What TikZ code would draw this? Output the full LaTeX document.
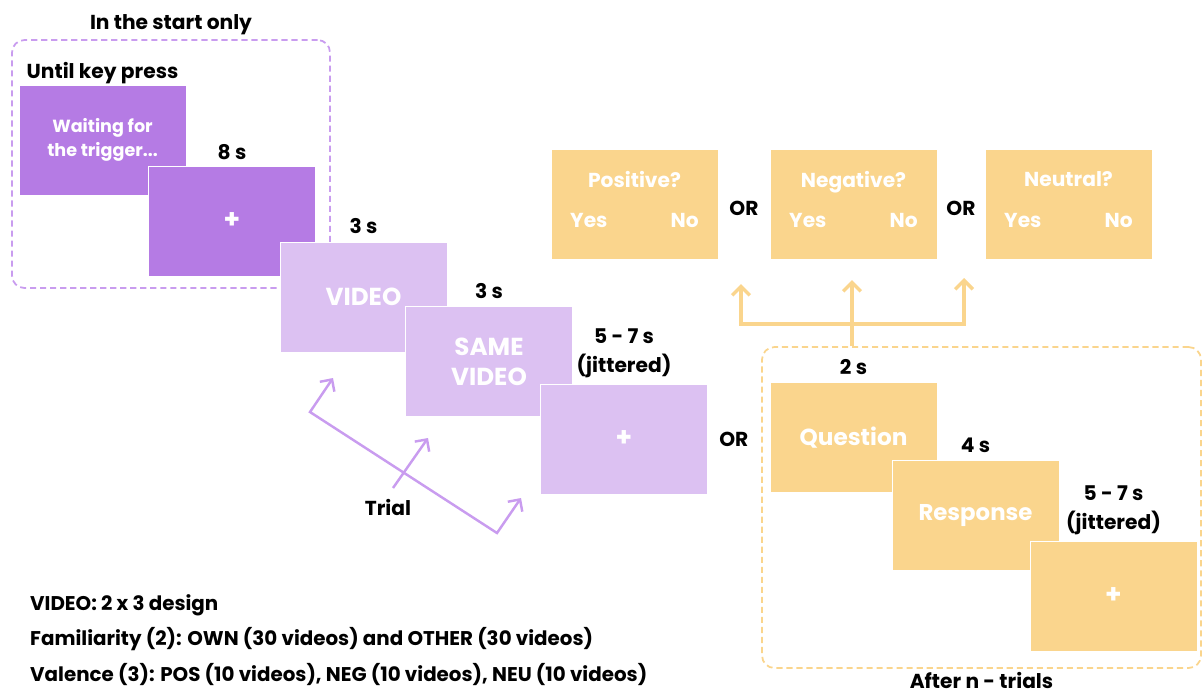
\documentclass[tikz,border=0pt]{standalone}
\usepackage{fontspec}
\setmainfont{Poppins}
\usepackage{tikz}
\usetikzlibrary{positioning,calc,arrows.meta}
\definecolor{darkviolet}{HTML}{B57BE4}
\definecolor{lightviolet}{HTML}{DCC1F2}
\definecolor{violetline}{HTML}{C99CEF}
\definecolor{sand}{HTML}{FAD58D}
\tikzset{
    >={Straight Barb[length=5pt,width=10pt]},
    screen/.style={
      rectangle,
      draw=white, thin,
      minimum width=3.34cm,
      minimum height=2.2cm,
      text=white,
      font=\bfseries\fontsize{14}{17}\selectfont,
      align=center},
    startscreen/.style={screen, fill=darkviolet},
    trialscreen/.style={screen, fill=lightviolet},
    askscreen/.style={screen, fill=sand},
    duration/.style={font=\bfseries\fontsize{11.5}{14}\selectfont, align=center},
    framebox/.style={
      rectangle,
      rounded corners=7pt,
      dash pattern=on 3.5pt off 2.2pt,
      line width=1pt},
    trialline/.style={draw=violetline, line width=1.4pt},
    askline/.style={draw=sand, line width=2pt},
    note/.style={font=\bfseries\fontsize{11.3}{13}\selectfont, anchor=west},
}

\begin{document}
\begin{tikzpicture}[x=0.02cm, y=-0.02cm]
    \useasboundingbox (0,0) rectangle (1203,698);

    \node[framebox, draw=violetline, minimum width=6.36cm, minimum height=4.96cm] (startframe) at (171,164) {};
    \node[duration, above=-1pt of startframe] (startlabel) {In the start only};
    \node[framebox, draw=sand, minimum width=8.78cm, minimum height=6.42cm] (afterframe) at (981.5,507.5) {};
    \node[duration, below=-1.5pt of afterframe] (afterlabel) {After n - trials};

    \node[startscreen, font=\bfseries\fontsize{10}{14}\selectfont] (wait) at (102.5,140) {Waiting for\\the trigger...};
    \node[duration, above=-3pt of wait] (waitlabel) {Until key press};
    \node[startscreen, font=\bfseries\fontsize{15}{15}\selectfont] (fixstart) at (232,221) {+};
    \node[duration, above=0pt of fixstart] (fixstartlabel) {8 s};

    \node[trialscreen] (video) at (363.5,297) {VIDEO};
    \node[duration, above=1pt of video] (videolabel) {3 s};
    \node[trialscreen] (same) at (489,361.5) {SAME\\VIDEO};
    \node[duration, above=1pt of same] (samelabel) {3 s};
    \node[trialscreen, font=\bfseries\fontsize{15}{15}\selectfont] (fixtrial) at (624,439) {+};
    \node[duration, above=0pt of fixtrial] (fixtriallabel) {5 - 7 s\\[2pt](jittered)};
    \node[duration, right=3pt of fixtrial] (or0) {OR};

    \coordinate (trialA) at (333,378);
    \coordinate (trialB) at (310,412);
    \coordinate (trialC) at (497,533);
    \coordinate (trialD) at (521,498);
    \coordinate (trialE) at (393,488);
    \coordinate (trialF) at (428,438);
    \draw[trialline, <->] (trialA) -- (trialB) -- (trialC) -- (trialD);
    \draw[trialline, ->] (trialE) -- (trialF);
    \node[duration] (trial) at (388,507) {Trial};

    \node[askscreen, font=\bfseries\fontsize{11.5}{13}\selectfont] (pos) at (634.5,204.5) {Positive?\\[10pt]Yes\hspace{36pt}No\\[-7.5pt]\mbox{}};
    \node[askscreen, font=\bfseries\fontsize{11.5}{13}\selectfont] (neg) at (853.5,204.5) {Negative?\\[10pt]Yes\hspace{36pt}No\\[-7.5pt]\mbox{}};
    \node[askscreen, font=\bfseries\fontsize{11.5}{13}\selectfont] (neu) at (1068.5,204.5) {Neutral?\\[10pt]Yes\hspace{36pt}No\\[-7.5pt]\mbox{}};
    \node[duration] (or1) at ($(pos.east)!0.5!(neg.west)+(0,4)$) {OR};
    \node[duration] (or2) at ($(neg.east)!0.5!(neu.west)+(0,4)$) {OR};

    \coordinate (forkL) at (741,324);
    \coordinate (forkR) at (964,324);
    \coordinate (tipL) at (741,284);
    \coordinate (tipM) at (852,280);
    \coordinate (tipR) at (964,278);
    \draw[askline, <->] (tipL) -- (forkL) -- (forkR) -- (tipR);
    \draw[askline, ->] (afterframe.north -| tipM) -- (tipM);

    \node[askscreen, font=\bfseries\fontsize{13.2}{15}\selectfont] (question) at (853.5,437.5) {Question};
    \node[duration, above=1pt of question] (questionlabel) {2 s};
    \node[askscreen, font=\bfseries\fontsize{13}{15}\selectfont] (response) at (975.5,515.5) {Response};
    \node[duration, above=1pt of response] (responselabel) {4 s};
    \node[askscreen, font=\bfseries\fontsize{15}{15}\selectfont] (fixask) at (1113.5,596) {+};
    \node[duration, above=0pt of fixask] (fixasklabel) {5 - 7 s\\[2pt](jittered)};

    \node[note] (note1) at (24,605) {VIDEO: 2 x 3 design};
    \node[note] (note2) at (24,639) {Familiarity (2): OWN (30 videos) and OTHER (30 videos)};
    \node[note] (note3) at (24,674) {Valence (3): POS (10 videos), NEG (10 videos), NEU (10 videos)};
\end{tikzpicture}
\end{document}
